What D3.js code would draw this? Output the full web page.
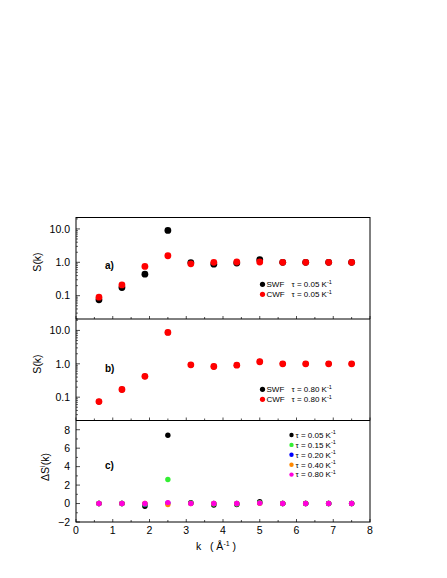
<!DOCTYPE html>
<html>
<head>
<meta charset="utf-8">
<script src="https://cdn.jsdelivr.net/npm/d3@7"></script>
<style>
  body { margin: 0; background: #fff; }
  text { font-family: "Liberation Sans", Arial, sans-serif; }
</style>
</head>
<body>
<svg id="chart" width="447" height="578"></svg>
<script>
// ---------------- data ----------------
var kValues = [0.625, 1.25, 1.875, 2.5, 3.125, 3.75, 4.375, 5.0, 5.625, 6.25, 6.875, 7.5];

// panel a) tau = 0.05
var swfA = [0.075, 0.176, 0.44, 9.0, 0.98, 0.88, 0.95, 1.2, 1.0, 1.0, 1.0, 1.0];
var cwfA = [0.09, 0.21, 0.75, 1.57, 0.9, 1.0, 1.02, 1.02, 1.0, 1.0, 1.0, 1.0];

// panel b) tau = 0.80
var swfB = [0.074, 0.17, 0.42, 8.7, 0.93, 0.83, 0.91, 1.15, 1.0, 1.0, 1.0, 1.0];
var cwfB = [0.074, 0.17, 0.42, 8.7, 0.93, 0.83, 0.91, 1.15, 1.0, 1.0, 1.0, 1.0];

// panel c) Delta S^i(k) for several tau
var tauLabels = ["0.05", "0.15", "0.20", "0.40", "0.80"];
var dS005 = [0, 0, -0.3, 7.4, 0.1, -0.15, -0.1, 0.2, 0, 0, 0, 0];
var dS015 = [0, 0, -0.1, 2.6, 0.05, -0.05, -0.05, 0.1, 0, 0, 0, 0];
var dS020 = [0, 0, -0.05, 0.05, 0.02, 0, 0, 0.05, 0, 0, 0, 0];
var dS040 = [0, 0, 0, -0.1, 0, 0, 0, 0.03, 0, 0, 0, 0];
var dS080 = [0, 0, 0, 0.1, 0, 0, 0, 0.05, 0, 0, 0, 0];

var xTicks = [0, 1, 2, 3, 4, 5, 6, 7, 8];
var logTicks = [0.1, 1, 10];
var linTicks = [-2, 0, 2, 4, 6, 8];

// ---------------- layout ----------------
var svg = d3.select("#chart");
var left = 76, right = 370;
var panelTops = [217.5, 319, 420.5, 522];

var x = d3.scaleLinear().domain([0, 8]).range([left, right]);

var yA = d3.scaleLog().domain([0.02, 22]).range([panelTops[1], panelTops[0]]);
var yB = d3.scaleLog().domain([0.02, 22]).range([panelTops[2], panelTops[1]]);
var yC = d3.scaleLinear().domain([-2, 9]).range([panelTops[3], panelTops[2]]);

var colors = ["#000000", "#33ee33", "#0000ff", "#ff8800", "#ff00dd"];

// ---- frame ----
svg.append("rect").attr("x", left).attr("y", panelTops[0])
  .attr("width", right - left).attr("height", panelTops[3] - panelTops[0])
  .attr("fill", "none").attr("stroke", "#000").attr("stroke-width", 1);
[panelTops[1], panelTops[2]].forEach(function(yy){
  svg.append("line").attr("x1", left).attr("x2", right).attr("y1", yy).attr("y2", yy)
    .attr("stroke", "#000").attr("stroke-width", 1);
});

// ---- x ticks (inward, on the bottom of each panel) ----
var halfTicks = d3.range(0, 8.01, 0.5);
[panelTops[1], panelTops[2], panelTops[3]].forEach(function(yy){
  svg.append("g").selectAll("line").data(halfTicks).enter().append("line")
    .attr("x1", function(d){ return x(d); }).attr("x2", function(d){ return x(d); })
    .attr("y1", yy).attr("y2", function(d){ return yy - (d % 1 === 0 ? 3 : 2); })
    .attr("stroke", "#000").attr("stroke-width", 0.7);
});
svg.append("g").selectAll("text").data(xTicks).enter().append("text")
  .attr("x", function(d){ return x(d); }).attr("y", 534)
  .attr("text-anchor", "middle").attr("font-size", 10.5)
  .text(function(d){ return d; });

var xt = svg.append("text").attr("x", 216).attr("y", 550).attr("text-anchor", "middle")
  .attr("font-size", 10.5).attr("xml:space", "preserve");
xt.append("tspan").text("k   ( Å");
xt.append("tspan").attr("font-size", 7).attr("dy", -4).text("-1");
xt.append("tspan").attr("dy", 4).text(" )");

// ---- y axes ----
function logAxis(scale){
  var minor = [];
  [0.01, 0.1, 1, 10].forEach(function(dec){
    for (var m = 2; m <= 9; m++) {
      var v = dec * m;
      if (v >= scale.domain()[0] && v <= scale.domain()[1]) minor.push(v);
    }
  });
  var g = svg.append("g");
  g.selectAll("line.mj").data(logTicks).enter().append("line")
    .attr("x1", left).attr("x2", left + 4)
    .attr("y1", function(d){ return scale(d); }).attr("y2", function(d){ return scale(d); })
    .attr("stroke", "#000").attr("stroke-width", 0.7);
  g.selectAll("line.mn").data(minor).enter().append("line")
    .attr("x1", left).attr("x2", left + 2)
    .attr("y1", function(d){ return scale(d); }).attr("y2", function(d){ return scale(d); })
    .attr("stroke", "#000").attr("stroke-width", 0.6);
  g.selectAll("text").data(logTicks).enter().append("text")
    .attr("x", 70).attr("y", function(d){ return scale(d) + 3.8; })
    .attr("text-anchor", "end").attr("font-size", 10.5)
    .text(function(d){ return d3.format(".1f")(d); });
}
logAxis(yA);
logAxis(yB);

var gC = svg.append("g");
gC.selectAll("line.mj").data(linTicks).enter().append("line")
  .attr("x1", left).attr("x2", left + 4)
  .attr("y1", function(d){ return yC(d); }).attr("y2", function(d){ return yC(d); })
  .attr("stroke", "#000").attr("stroke-width", 0.7);
gC.selectAll("line.mn").data([-1, 1, 3, 5, 7, 9]).enter().append("line")
  .attr("x1", left).attr("x2", left + 2)
  .attr("y1", function(d){ return yC(d); }).attr("y2", function(d){ return yC(d); })
  .attr("stroke", "#000").attr("stroke-width", 0.6);
gC.selectAll("text").data(linTicks).enter().append("text")
  .attr("x", 70).attr("y", function(d){ return yC(d) + 3.8; })
  .attr("text-anchor", "end").attr("font-size", 10.5)
  .text(function(d){ return d < 0 ? "\u2212" + Math.abs(d) : d; });

// y titles
function yTitle(cx, cy){
  return svg.append("text").attr("transform", "translate(" + cx + "," + cy + ") rotate(-90)")
    .attr("text-anchor", "middle").attr("font-size", 10.5);
}
yTitle(41, 262).text("S(k)");
yTitle(41, 364).text("S(k)");
var dt = yTitle(49, 467);
dt.append("tspan").text("ΔS");
dt.append("tspan").attr("font-size", 7).attr("dy", -4).text("i");
dt.append("tspan").attr("dy", 4).text("(k)");

// panel letters
[["a)", 265], ["b)", 368], ["c)", 465]].forEach(function(p){
  svg.append("text").attr("x", 105).attr("y", p[1] + 4)
    .attr("font-size", 10).attr("font-weight", "bold").text(p[0]);
});

// ---- points ----
function dots(scale, values, color, r){
  svg.append("g").selectAll("circle").data(values).enter().append("circle")
    .attr("cx", function(d, i){ return x(kValues[i]); })
    .attr("cy", function(d){ return scale(d); })
    .attr("r", r).attr("fill", color);
}
dots(yA, swfA, "#000", 3.4);
dots(yA, cwfA, "#ff0000", 3.4);
dots(yB, swfB, "#000", 2.9);
dots(yB, cwfB, "#ff0000", 3.4);
[dS005, dS015, dS020, dS040, dS080].forEach(function(s, i){
  dots(yC, s, colors[i], 2.7);
});

// ---- legends ----
function legendRow(mx, my, color, r, name, tau){
  svg.append("circle").attr("cx", mx).attr("cy", my).attr("r", r).attr("fill", color);
  var t = svg.append("text").attr("x", mx + 4).attr("y", my + 2.8).attr("font-size", 8)
    .attr("xml:space", "preserve");
  if (name) {
    t.append("tspan").text(name);
    t.append("tspan").attr("x", mx + 29).text("τ = " + tau + " K");
  } else {
    t.append("tspan").text("τ = " + tau + " K");
  }
  t.append("tspan").attr("font-size", 5.5).attr("dy", -3.5).text("-1");
}
legendRow(262.5, 284.3, "#000", 2.6, "SWF", "0.05");
legendRow(262.5, 294.3, "#ff0000", 2.6, "CWF", "0.05");
legendRow(262.5, 389.3, "#000", 2.6, "SWF", "0.80");
legendRow(262.5, 399.3, "#ff0000", 2.6, "CWF", "0.80");
tauLabels.forEach(function(tl, i){
  legendRow(291.5, 435 + i * 9.9, colors[i], 2.2, null, tl);
});
</script>
</body>
</html>
